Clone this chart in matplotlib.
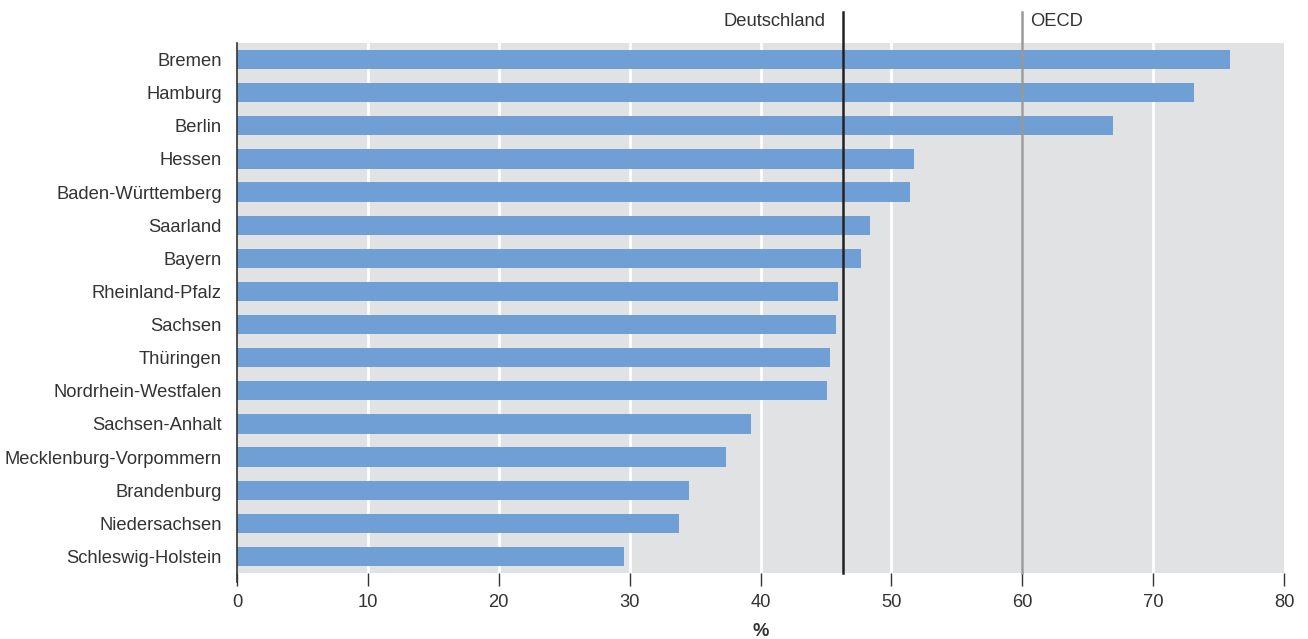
import matplotlib
matplotlib.use("Agg")
import matplotlib.pyplot as plt
import numpy as np

plt.rcParams['font.family'] = ['Liberation Sans', 'DejaVu Sans']

laender = ["Bremen", "Hamburg", "Berlin", "Hessen", "Baden-Württemberg", "Saarland",
           "Bayern", "Rheinland-Pfalz", "Sachsen", "Thüringen", "Nordrhein-Westfalen",
           "Sachsen-Anhalt", "Mecklenburg-Vorpommern", "Brandenburg", "Niedersachsen",
           "Schleswig-Holstein"]
werte = [75.9, 73.1, 66.9, 51.7, 51.4, 48.4, 47.7, 45.9, 45.8, 45.3, 45.1,
         39.3, 37.4, 34.5, 33.8, 29.6]
deutschland = 46.3
oecd = 60.0

txt = "#333333"
fs = 13.2
fig = plt.figure(figsize=(13.08, 6.39), dpi=100)
ax = fig.add_axes([237/1308, 66/639, (1284-237)/1308, (573-43)/639])
ax.set_facecolor("#e1e2e4")

y = np.arange(len(laender))
ax.barh(y, werte, height=0.58, color="#6f9fd5", zorder=3)
ax.set_ylim(len(laender) - 0.5, -0.5)
ax.set_xlim(0, 80)
ax.set_yticks(y)
ax.set_yticklabels(laender, fontsize=fs, color=txt)
ax.tick_params(axis="y", length=0, pad=11)
ax.set_xticks(np.arange(0, 81, 10))
ax.tick_params(axis="x", length=9, width=1, color=txt, labelsize=fs, labelcolor=txt, pad=6)
for gx in range(10, 80, 10):
    ax.axvline(gx, color="white", lw=2.0, zorder=1)

for s in ["top", "right", "bottom"]:
    ax.spines[s].set_visible(False)
ax.spines["left"].set_color(txt)
ax.spines["left"].set_linewidth(1.2)
ax.spines["left"].set_bounds(len(laender) - 0.5 + 0.28, -0.5)
ax.spines["left"].set_zorder(5)

# reference lines, extending above the plot
for val, col, lab, ha, dx in [(deutschland, "#222222", "Deutschland", "right", -1.3),
                              (oecd, "#999999", "OECD", "left", 0.6)]:
    ax.plot([val, val], [len(laender) - 0.5, -1.45], color=col, lw=1.8, zorder=4, clip_on=False)
    ax.text(val + dx, -1.4, lab, ha=ha, va="top", fontsize=fs, color=txt)

ax.set_xlabel("%", fontsize=fs, fontweight="bold", color=txt, labelpad=9)

fig.savefig("out.png", dpi=100)
